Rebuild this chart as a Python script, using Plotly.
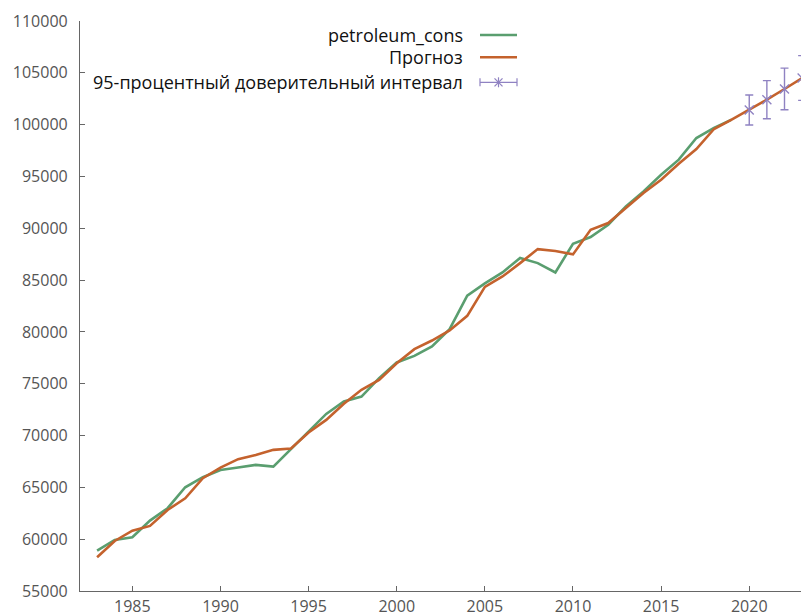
import plotly.graph_objects as go

years_actual = list(range(1983, 2020))
petroleum_cons = [58890, 59930, 60190, 61790, 62990, 65010, 65980, 66680, 66910, 67170,
                  67000, 68680, 70380, 72090, 73280, 73760, 75540, 77050, 77690, 78590,
                  80270, 83490, 84680, 85740, 87130, 86640, 85740, 88510, 89150, 90340,
                  92110, 93560, 95170, 96620, 98710, 99680, 100480]

years_forecast = list(range(1983, 2024))
forecast = [58250, 59830, 60820, 61280, 62820, 63950, 65880, 66910, 67720, 68130,
            68620, 68750, 70290, 71510, 73060, 74410, 75370, 76980, 78340, 79170,
            80140, 81550, 84350, 85350, 86640, 87990, 87800, 87480, 89860, 90510,
            91950, 93400, 94690, 96230, 97650, 99580, 100480, 101410, 102410, 103440, 104500]

ci_years = [2020, 2021, 2022, 2023]
ci_center = [101410, 102410, 103440, 104500]
ci_half = [1450, 1835, 2010, 2160]

legend_names = ["petroleum_cons", "Прогноз", "95-процентный доверительный интервал"]

GREEN = "#5a9e6f"
ORANGE = "#c4622d"
PURPLE = "#8f82c2"
FONT = "Open Sans"

fig = go.Figure()
fig.add_trace(go.Scatter(x=years_actual, y=petroleum_cons, mode="lines",
                         line=dict(color=GREEN, width=2.6), name=legend_names[0]))
fig.add_trace(go.Scatter(x=years_forecast, y=forecast, mode="lines",
                         line=dict(color=ORANGE, width=2.6), name=legend_names[1]))
fig.add_trace(go.Scatter(x=ci_years, y=ci_center, mode="markers",
                         marker=dict(symbol="x-thin", size=9, line=dict(color=PURPLE, width=1.4)),
                         error_y=dict(type="data", array=ci_half, color=PURPLE, thickness=1.4, width=4),
                         name=legend_names[2]))

# the page body has an 8px margin; plot area in page pixels:
OFF = 8
L, R, T, B = 80, 809, 21, 591
W, H = R - L, B - T
FIG_W, FIG_H = 809 - OFF, 616 - OFF

def px(x):
    return (x - L) / W
def py(y):
    return (B - y) / H

rows_y = [35, 57.3, 82.3]
colors = [GREEN, ORANGE, PURPLE]
annotations = []
shapes = []
for name, yy in zip(legend_names, rows_y):
    annotations.append(dict(text=name, xref="paper", yref="paper", x=px(465), y=py(yy),
                            xanchor="right", yanchor="middle", showarrow=False,
                            font=dict(family=FONT, size=18, color="#111111")))
for yy, c in zip(rows_y[:2], colors[:2]):
    shapes.append(dict(type="line", xref="paper", yref="paper", x0=px(480), x1=px(517),
                       y0=py(yy), y1=py(yy), line=dict(color=c, width=2.6)))
yy = rows_y[2]
lw = 1.2
shapes.append(dict(type="line", xref="paper", yref="paper", x0=px(480), x1=px(517),
                   y0=py(yy), y1=py(yy), line=dict(color=PURPLE, width=lw)))
for xe in (480, 517):
    shapes.append(dict(type="line", xref="paper", yref="paper", x0=px(xe), x1=px(xe),
                       y0=py(yy - 4), y1=py(yy + 4), line=dict(color=PURPLE, width=lw)))
xc = 498.5
shapes.append(dict(type="line", xref="paper", yref="paper", x0=px(xc - 4), x1=px(xc + 4),
                   y0=py(yy - 4), y1=py(yy + 4), line=dict(color=PURPLE, width=lw)))
shapes.append(dict(type="line", xref="paper", yref="paper", x0=px(xc - 4), x1=px(xc + 4),
                   y0=py(yy + 4), y1=py(yy - 4), line=dict(color=PURPLE, width=lw)))
shapes.append(dict(type="line", xref="paper", yref="paper", x0=px(xc), x1=px(xc),
                   y0=py(yy - 5), y1=py(yy + 5), line=dict(color=PURPLE, width=lw)))

axis_common = dict(showgrid=False, zeroline=False, showline=True, linecolor="#666666",
                   linewidth=1.2, ticks="inside", ticklen=5, tickcolor="#666666",
                   tickfont=dict(family=FONT, size=16, color="#555555"))

fig.update_layout(
    width=FIG_W, height=FIG_H,
    margin=dict(l=L - OFF, r=FIG_W - (R - OFF), t=T - OFF, b=FIG_H - (B - OFF), pad=0),
    paper_bgcolor="white", plot_bgcolor="white",
    showlegend=False,
    xaxis=dict(range=[1982.03, 2023.39], tickmode="array",
               tickvals=[1985, 1990, 1995, 2000, 2005, 2010, 2015, 2020],
               ticklabelstandoff=1, automargin=False, **axis_common),
    yaxis=dict(range=[55000, 110000], tickmode="array",
               tickvals=list(range(55000, 110001, 5000)), tickformat="d",
               ticklabelstandoff=8, automargin=False, **axis_common),
    annotations=annotations,
    shapes=shapes,
)

fig.write_html("out.html")
